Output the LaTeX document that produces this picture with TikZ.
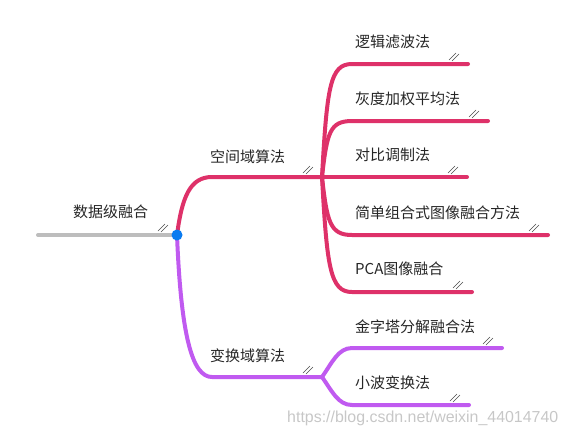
\documentclass[tikz,border=0pt]{standalone}
\usepackage{fontspec}
\setmainfont{Noto Sans CJK SC}
\newfontfamily\urlfont{Liberation Sans}
\usepackage{xcolor}
\usepackage{tikz}

\definecolor{rootgray}{HTML}{BDBDBD}
\definecolor{spacepink}{HTML}{DE3169}
\definecolor{transpurple}{HTML}{C05AF0}
\definecolor{dotblue}{HTML}{0A7BF0}

\tikzset{
  branch/.style={line width=0.12cm, line cap=round},
  topic/.style={anchor=west, inner sep=0pt, text=black!85,
    font=\fontsize{12.8pt}{14pt}\selectfont},
  gripline/.style={draw=black!70, line width=0.4pt},
  watermark/.style={anchor=west, inner sep=0pt, text=black!22,
    font=\urlfont\fontsize{13.6pt}{15pt}\selectfont}
}

% two small strokes just before the end of a branch
\newcommand{\gripmark}[1]{%
  \draw[gripline] ([shift={(-19,-4)}]#1) -- ([shift={(-12,-11)}]#1);
  \draw[gripline] ([shift={(-16,-3)}]#1) -- ([shift={(-9,-10)}]#1);
}

\begin{document}
\begin{tikzpicture}[x=0.03cm, y=-0.03cm]
\useasboundingbox (0,0) rectangle (567,439);

\coordinate (start) at (38,235);
\coordinate (root) at (177,235);
\coordinate (spaceknee) at (212,177);
\coordinate (space) at (322,177);
\coordinate (transknee) at (212,377);
\coordinate (trans) at (322,377);

% leaf lines: name / y / right end
\foreach \name/\y/\xend in {logic/64/468, weight/121/488, simple/235/548,
    pca/292/472, pyramid/348/502, wavelet/405/469} {
  \coordinate (\name-in) at (352,\y);
  \coordinate (\name-out) at (\xend,\y);
}
\coordinate (contrast-out) at (467,177);

% labels
\node[topic] (rootlbl) at (73,212) {数据级融合};
\node[topic] (spacelbl) at (210,157) {空间域算法};
\node[topic] (translbl) at (210,356) {变换域算法};
\node[topic] (logiclbl) at (355,42) {逻辑滤波法};
\node[topic] (weightlbl) at (355,99) {灰度加权平均法};
\node[topic] (contrastlbl) at (355,155) {对比调制法};
\node[topic] (simplelbl) at (355,213) {简单组合式图像融合方法};
\node[topic] (pcalbl) at (355,269) {PCA图像融合};
\node[topic] (pyramidlbl) at (355,327) {金字塔分解融合法};
\node[topic] (waveletlbl) at (355,383) {小波变换法};

% root
\draw[branch, rootgray] (start) -- (root);

% spatial domain
\draw[branch, spacepink] (root) .. controls +(5,-38) and +(-22,0) .. (spaceknee) -- (space);
\draw[branch, spacepink] (space) .. controls +(5,-90) and +(-22,0) .. (logic-in) -- (logic-out);
\draw[branch, spacepink] (space) .. controls +(5,-45) and +(-22,0) .. (weight-in) -- (weight-out);
\draw[branch, spacepink] (space) -- (contrast-out);
\draw[branch, spacepink] (space) .. controls +(5,45) and +(-22,0) .. (simple-in) -- (simple-out);
\draw[branch, spacepink] (space) .. controls +(5,90) and +(-22,0) .. (pca-in) -- (pca-out);

% transform domain
\draw[branch, transpurple] (root) .. controls +(4,100) and +(-20,0) .. (transknee) -- (trans);
\draw[branch, transpurple] (trans) .. controls +(10,-14) and +(-14,0) .. (pyramid-in) -- (pyramid-out);
\draw[branch, transpurple] (trans) .. controls +(10,14) and +(-14,0) .. (wavelet-in) -- (wavelet-out);

\fill[dotblue] (root) circle (5.5);

\gripmark{root}
\gripmark{space}
\gripmark{trans}
\gripmark{logic-out}
\gripmark{weight-out}
\gripmark{contrast-out}
\gripmark{simple-out}
\gripmark{pca-out}
\gripmark{pyramid-out}
\gripmark{wavelet-out}

\node[watermark] (wm) at (287,418) {https://blog.csdn.net/weixin\_44014740};
\end{tikzpicture}
\end{document}
